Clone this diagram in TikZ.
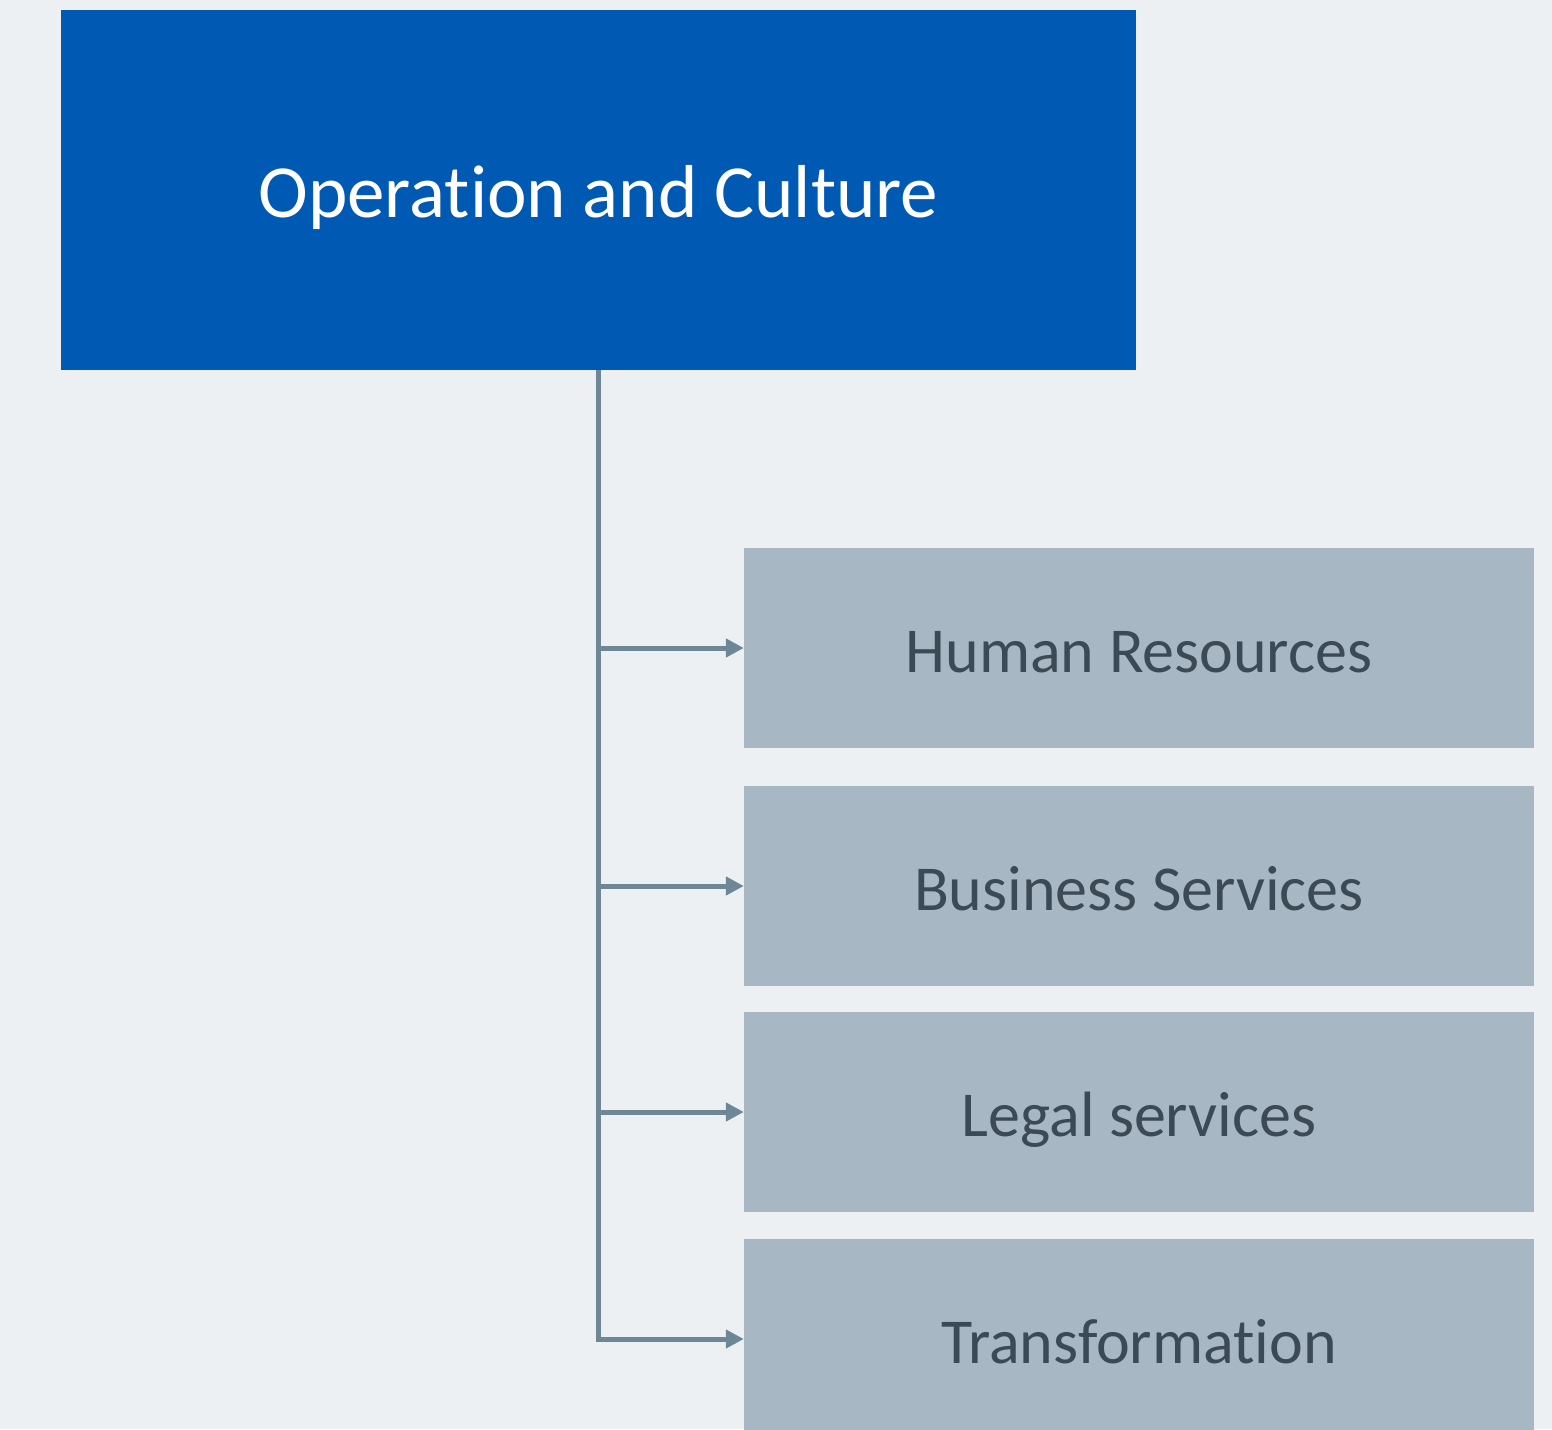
\documentclass[tikz,border=0pt]{standalone}
\usepackage{fontspec}
\setmainfont{Carlito}[Ligatures=NoCommon]
\usetikzlibrary{arrows.meta}
\definecolor{bgc}{HTML}{ECF0F2}
\definecolor{topc}{HTML}{0059B3}
\definecolor{childc}{HTML}{A7B7C3}
\definecolor{childtxt}{HTML}{3B4A55}
\definecolor{linec}{HTML}{6E8796}
\begin{document}
\begin{tikzpicture}[x=1pt,y=-1pt,
  topbox/.style={fill=topc, draw=none, minimum width=1075pt, minimum height=360pt, inner sep=0pt, text=white, text height=54pt, text depth=0pt, font=\fontsize{75}{80}\selectfont},
  childbox/.style={fill=childc, draw=none, minimum width=790pt, minimum height=200pt, inner sep=0pt, text=childtxt, text height=48pt, text depth=0pt, font=\fontsize{64}{70}\selectfont},
  conn/.style={draw=linec, line width=5pt},
  arr/.style={conn, -{Triangle[length=18pt,width=18pt]}}
]
\useasboundingbox (0,0) rectangle (1552,1429);
\clip (0,0) rectangle (1552,1429);
\fill[bgc] (0,0) rectangle (1552,1429);
\node[topbox] (top) at (598.5,190) {Operation and Culture};
\node[childbox] (hr) at (1139,648) {Human Resources};
\node[childbox] (bs) at (1139,886) {Business Services};
\node[childbox] (ls) at (1139,1112) {Legal services};
\node[childbox] (tr) at (1139,1339) {Transformation};
\coordinate (j1) at (598.5,648);
\coordinate (j2) at (598.5,886);
\coordinate (j3) at (598.5,1112);
\coordinate (j4) at (598.5,1339);
\draw[conn] (top.south -| j1) -- (j4) -- ([xshift=-20pt]j4 -| tr.west);
\draw[arr] ([xshift=-2.5pt]j1) -- (hr.west);
\draw[arr] ([xshift=-2.5pt]j2) -- (bs.west);
\draw[arr] ([xshift=-2.5pt]j3) -- (ls.west);
\draw[arr] ([xshift=-2.5pt]j4) -- (tr.west);
\end{tikzpicture}
\end{document}
